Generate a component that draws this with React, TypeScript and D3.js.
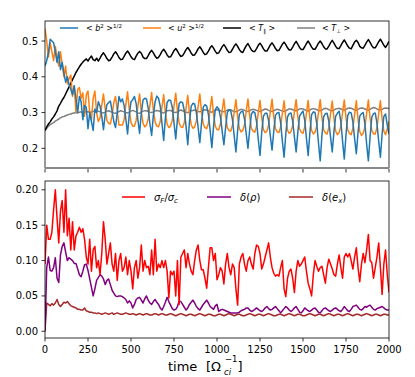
import * as d3 from "d3";

// time step of every series: 10 [1/Omega_ci], from t = 0 to 2000
const STEP = 10;

const xTicks = [0, 250, 500, 750, 1000, 1250, 1500, 1750, 2000];
const topYTicks = [0.2, 0.3, 0.4, 0.5];
const botYTicks = [0.0, 0.05, 0.1, 0.15, 0.2];
const botYLabels = ["0.00", "0.05", "0.10", "0.15", "0.20"];

// <b^2>^{1/2}
const bRms = [
  0.430, 0.445, 0.468, 0.505, 0.500, 0.495, 0.470, 0.440, 0.470, 0.420, 0.440, 0.410, 0.385, 0.400, 0.378, 0.365,
  0.350, 0.375, 0.340, 0.300, 0.345, 0.330, 0.280, 0.320, 0.315, 0.255, 0.300, 0.275, 0.250, 0.310, 0.300,
  0.330, 0.318, 0.290, 0.252, 0.295, 0.322, 0.328,
  0.332, 0.305, 0.275, 0.258, 0.300, 0.345, 0.330,
  0.338, 0.320, 0.282, 0.240, 0.295, 0.330, 0.336,
  0.345, 0.325, 0.280, 0.242, 0.300, 0.335, 0.340,
  0.338, 0.312, 0.268, 0.236, 0.292, 0.330, 0.346,
  0.340, 0.318, 0.270, 0.222, 0.285, 0.328, 0.335,
  0.334, 0.315, 0.272, 0.226, 0.282, 0.325, 0.330,
  0.328, 0.305, 0.262, 0.210, 0.275, 0.318, 0.326,
  0.324, 0.300, 0.260, 0.216, 0.270, 0.315, 0.322,
  0.318, 0.295, 0.250, 0.202, 0.262, 0.308, 0.316,
  0.310, 0.288, 0.248, 0.210, 0.258, 0.300, 0.308,
  0.305, 0.280, 0.235, 0.190, 0.250, 0.295, 0.302,
  0.304, 0.282, 0.240, 0.200, 0.252, 0.296, 0.303,
  0.300, 0.275, 0.225, 0.180, 0.245, 0.290, 0.298,
  0.298, 0.278, 0.235, 0.195, 0.248, 0.292, 0.299,
  0.300, 0.272, 0.220, 0.175, 0.240, 0.288, 0.297,
  0.299, 0.276, 0.232, 0.190, 0.246, 0.290, 0.298,
  0.304, 0.278, 0.228, 0.180, 0.244, 0.294, 0.302,
  0.300, 0.270, 0.215, 0.165, 0.235, 0.288, 0.297,
  0.298, 0.276, 0.232, 0.190, 0.248, 0.290, 0.298,
  0.304, 0.275, 0.220, 0.170, 0.238, 0.292, 0.301,
  0.299, 0.274, 0.228, 0.185, 0.245, 0.290, 0.297,
  0.300, 0.268, 0.212, 0.165, 0.232, 0.287, 0.297,
  0.299, 0.270, 0.220, 0.175, 0.240, 0.289, 0.296,
  0.265, 0.240,
];

// <u^2>^{1/2}
const uRms = [
  0.535, 0.500, 0.455, 0.495, 0.470, 0.445, 0.485, 0.455, 0.430, 0.470, 0.435, 0.400, 0.430, 0.380, 0.395, 0.405,
  0.345, 0.375, 0.300, 0.365, 0.370, 0.340, 0.355, 0.290, 0.350, 0.360, 0.300, 0.280, 0.340, 0.360, 0.300,
  0.275, 0.285, 0.320, 0.352, 0.310, 0.278, 0.270,
  0.268, 0.292, 0.328, 0.345, 0.305, 0.265, 0.265,
  0.265, 0.280, 0.322, 0.358, 0.308, 0.272, 0.262,
  0.262, 0.278, 0.318, 0.352, 0.302, 0.270, 0.260,
  0.265, 0.282, 0.320, 0.356, 0.306, 0.274, 0.262,
  0.260, 0.275, 0.315, 0.350, 0.300, 0.268, 0.258,
  0.262, 0.278, 0.318, 0.354, 0.304, 0.270, 0.260,
  0.258, 0.272, 0.312, 0.348, 0.298, 0.266, 0.256,
  0.260, 0.276, 0.316, 0.352, 0.302, 0.268, 0.258,
  0.255, 0.270, 0.310, 0.345, 0.295, 0.262, 0.252,
  0.252, 0.268, 0.305, 0.338, 0.290, 0.258, 0.250,
  0.248, 0.265, 0.302, 0.336, 0.288, 0.255, 0.246,
  0.250, 0.266, 0.304, 0.338, 0.290, 0.256, 0.248,
  0.245, 0.262, 0.300, 0.334, 0.285, 0.252, 0.244,
  0.248, 0.265, 0.302, 0.337, 0.288, 0.255, 0.246,
  0.244, 0.260, 0.298, 0.333, 0.284, 0.250, 0.242,
  0.246, 0.264, 0.302, 0.336, 0.287, 0.254, 0.245,
  0.242, 0.260, 0.298, 0.334, 0.283, 0.250, 0.240,
  0.245, 0.262, 0.300, 0.336, 0.286, 0.252, 0.243,
  0.240, 0.258, 0.296, 0.332, 0.282, 0.248, 0.238,
  0.244, 0.262, 0.300, 0.335, 0.285, 0.252, 0.242,
  0.238, 0.256, 0.295, 0.333, 0.280, 0.247, 0.236,
  0.242, 0.260, 0.298, 0.335, 0.284, 0.250, 0.240,
  0.240, 0.258, 0.296, 0.333, 0.282, 0.248, 0.238,
  0.255, 0.275,
];

// <T_par>
const tPar = [
  0.250, 0.260, 0.268, 0.274, 0.282, 0.288, 0.296, 0.305, 0.318, 0.326, 0.335, 0.342, 0.352, 0.362, 0.372, 0.382,
  0.392, 0.402, 0.412, 0.420, 0.428, 0.435, 0.441, 0.446, 0.450, 0.444, 0.452, 0.458, 0.448, 0.445, 0.452,
  0.444, 0.452, 0.461, 0.467, 0.460, 0.451, 0.445,
  0.447, 0.455, 0.464, 0.470, 0.463, 0.454, 0.448,
  0.449, 0.457, 0.466, 0.472, 0.465, 0.456, 0.450,
  0.448, 0.458, 0.466, 0.471, 0.466, 0.455, 0.451,
  0.451, 0.459, 0.468, 0.474, 0.467, 0.458, 0.452,
  0.454, 0.462, 0.471, 0.477, 0.470, 0.461, 0.455,
  0.456, 0.464, 0.473, 0.479, 0.472, 0.463, 0.457,
  0.459, 0.467, 0.476, 0.482, 0.475, 0.466, 0.460,
  0.461, 0.469, 0.478, 0.484, 0.477, 0.468, 0.462,
  0.464, 0.472, 0.481, 0.487, 0.480, 0.471, 0.465,
  0.467, 0.475, 0.484, 0.490, 0.483, 0.474, 0.468,
  0.469, 0.477, 0.486, 0.492, 0.485, 0.476, 0.470,
  0.468, 0.478, 0.487, 0.493, 0.484, 0.475, 0.471,
  0.471, 0.479, 0.488, 0.494, 0.487, 0.478, 0.472,
  0.472, 0.480, 0.489, 0.495, 0.488, 0.479, 0.473,
  0.474, 0.482, 0.491, 0.497, 0.490, 0.481, 0.475,
  0.475, 0.483, 0.492, 0.499, 0.491, 0.482, 0.476,
  0.476, 0.484, 0.493, 0.500, 0.492, 0.483, 0.477,
  0.477, 0.485, 0.494, 0.500, 0.493, 0.484, 0.478,
  0.478, 0.486, 0.495, 0.502, 0.494, 0.485, 0.479,
  0.479, 0.487, 0.496, 0.503, 0.495, 0.486, 0.480,
  0.478, 0.488, 0.497, 0.502, 0.496, 0.485, 0.481,
  0.480, 0.488, 0.497, 0.504, 0.496, 0.487, 0.481,
  0.481, 0.489, 0.498, 0.505, 0.497, 0.488, 0.482,
  0.490, 0.499,
];

// <T_perp>
const tPerp = [
  0.250, 0.256, 0.262, 0.266, 0.269, 0.272, 0.276, 0.279, 0.282, 0.285, 0.288, 0.289, 0.291, 0.293, 0.295, 0.296,
  0.298, 0.299, 0.300, 0.299, 0.301, 0.302, 0.300, 0.303, 0.301, 0.303, 0.300, 0.302, 0.304, 0.301, 0.302,
  0.304, 0.302, 0.300, 0.299, 0.301, 0.304, 0.305,
  0.303, 0.301, 0.299, 0.298, 0.300, 0.303, 0.305,
  0.304, 0.302, 0.300, 0.299, 0.301, 0.304, 0.306,
  0.304, 0.302, 0.299, 0.298, 0.301, 0.304, 0.305,
  0.305, 0.303, 0.301, 0.300, 0.302, 0.305, 0.306,
  0.305, 0.303, 0.300, 0.299, 0.302, 0.305, 0.306,
  0.306, 0.303, 0.301, 0.300, 0.302, 0.305, 0.307,
  0.305, 0.303, 0.301, 0.300, 0.302, 0.305, 0.306,
  0.307, 0.305, 0.303, 0.302, 0.304, 0.307, 0.308,
  0.307, 0.305, 0.302, 0.301, 0.304, 0.307, 0.308,
  0.307, 0.305, 0.303, 0.302, 0.304, 0.307, 0.308,
  0.308, 0.305, 0.303, 0.302, 0.304, 0.307, 0.309,
  0.308, 0.306, 0.304, 0.303, 0.305, 0.308, 0.309,
  0.308, 0.306, 0.304, 0.303, 0.305, 0.308, 0.310,
  0.309, 0.306, 0.304, 0.303, 0.305, 0.308, 0.309,
  0.308, 0.306, 0.304, 0.303, 0.305, 0.308, 0.310,
  0.310, 0.308, 0.306, 0.305, 0.307, 0.310, 0.311,
  0.310, 0.308, 0.305, 0.304, 0.307, 0.310, 0.311,
  0.310, 0.308, 0.306, 0.305, 0.307, 0.310, 0.312,
  0.311, 0.308, 0.306, 0.305, 0.307, 0.310, 0.311,
  0.312, 0.310, 0.308, 0.307, 0.309, 0.312, 0.313,
  0.312, 0.310, 0.307, 0.306, 0.309, 0.312, 0.313,
  0.312, 0.310, 0.308, 0.307, 0.309, 0.312, 0.314,
  0.313, 0.310, 0.308, 0.307, 0.309, 0.312, 0.313,
  0.312, 0.311,
];

// sigma_F / sigma_c
const sigmaRatio = [
  0.095, 0.150, 0.130, 0.130, 0.140, 0.172, 0.200, 0.160, 0.125, 0.170, 0.185, 0.140, 0.200, 0.135, 0.160, 0.115,
  0.155, 0.115, 0.135, 0.140, 0.147, 0.140, 0.145, 0.130, 0.105, 0.095, 0.130, 0.085, 0.115, 0.120, 0.090, 0.100,
  0.080, 0.110, 0.155, 0.130, 0.095, 0.110, 0.125, 0.095, 0.085, 0.110, 0.072, 0.100, 0.110, 0.085, 0.090, 0.105,
  0.080, 0.100, 0.085, 0.060, 0.090, 0.100, 0.075, 0.090, 0.122, 0.085, 0.100, 0.090, 0.092, 0.080, 0.115, 0.080,
  0.130, 0.085, 0.095, 0.090, 0.100, 0.090, 0.100, 0.085, 0.047, 0.085, 0.080, 0.085, 0.050, 0.100, 0.038, 0.105,
  0.110, 0.115, 0.090, 0.110, 0.095, 0.085, 0.080, 0.100, 0.115, 0.122, 0.100, 0.087, 0.087, 0.075, 0.061, 0.090,
  0.118, 0.118, 0.100, 0.110, 0.073, 0.080, 0.090, 0.085, 0.067, 0.095, 0.110, 0.090, 0.080, 0.095, 0.090, 0.060,
  0.037, 0.095, 0.105, 0.110, 0.095, 0.085, 0.100, 0.105, 0.095, 0.088, 0.110, 0.122, 0.120, 0.110, 0.088, 0.095,
  0.105, 0.115, 0.125, 0.105, 0.090, 0.082, 0.078, 0.080, 0.078, 0.090, 0.100, 0.060, 0.049, 0.075, 0.085, 0.088,
  0.075, 0.055, 0.085, 0.100, 0.092, 0.095, 0.100, 0.105, 0.085, 0.068, 0.060, 0.050, 0.080, 0.100, 0.092, 0.085,
  0.090, 0.092, 0.080, 0.068, 0.090, 0.102, 0.095, 0.088, 0.080, 0.078, 0.095, 0.108, 0.090, 0.075, 0.105, 0.110,
  0.105, 0.110, 0.100, 0.088, 0.105, 0.118, 0.090, 0.070, 0.095, 0.110, 0.097, 0.115, 0.137, 0.100, 0.097, 0.075,
  0.090, 0.105, 0.125, 0.090, 0.052, 0.095, 0.115, 0.080, 0.055,
];

// delta(rho)
const deltaRho = [
  0.000, 0.090, 0.105, 0.086, 0.085, 0.090, 0.104, 0.075, 0.069, 0.108, 0.120, 0.125, 0.112, 0.100, 0.104, 0.102,
  0.100, 0.096, 0.096, 0.088, 0.080, 0.077, 0.085, 0.094, 0.095, 0.086, 0.074, 0.062, 0.050, 0.060, 0.072, 0.076,
  0.080, 0.078, 0.074, 0.066, 0.072, 0.074, 0.066, 0.058, 0.054, 0.050, 0.049, 0.050, 0.050, 0.049, 0.047, 0.045,
  0.040, 0.043, 0.040, 0.033, 0.038, 0.045, 0.047, 0.048, 0.044, 0.040, 0.046, 0.050, 0.044, 0.040, 0.038, 0.042,
  0.045, 0.041, 0.038, 0.033, 0.030, 0.035, 0.041, 0.048, 0.042, 0.037, 0.032, 0.030, 0.031, 0.035, 0.043, 0.042,
  0.038, 0.034, 0.030, 0.033, 0.038, 0.041, 0.044, 0.040, 0.035, 0.032, 0.030, 0.034, 0.038, 0.041, 0.044, 0.040,
  0.035, 0.033, 0.031, 0.036, 0.038, 0.028, 0.030, 0.031, 0.030, 0.029, 0.028, 0.027, 0.026, 0.026, 0.026, 0.026,
  0.026, 0.027, 0.029, 0.030, 0.031, 0.033, 0.033, 0.030, 0.028, 0.029, 0.031, 0.033, 0.031, 0.029, 0.028, 0.030,
  0.033, 0.035, 0.032, 0.030, 0.031, 0.033, 0.035, 0.032, 0.029, 0.026, 0.029, 0.032, 0.035, 0.033, 0.030, 0.028,
  0.030, 0.033, 0.035, 0.031, 0.027, 0.026, 0.029, 0.033, 0.031, 0.029, 0.028, 0.030, 0.032, 0.033, 0.030, 0.027,
  0.026, 0.029, 0.032, 0.033, 0.031, 0.029, 0.028, 0.030, 0.032, 0.033, 0.031, 0.029, 0.028, 0.031, 0.035, 0.032,
  0.029, 0.028, 0.031, 0.035, 0.036, 0.037, 0.034, 0.031, 0.030, 0.032, 0.035, 0.034, 0.036, 0.037, 0.034, 0.031,
  0.030, 0.032, 0.033, 0.034, 0.035, 0.033, 0.031, 0.030, 0.030,
];

// delta(e_x)
const deltaEx = [
  0.000, 0.040, 0.038, 0.036, 0.039, 0.037, 0.040, 0.045, 0.038, 0.035, 0.038, 0.041, 0.040, 0.042, 0.039, 0.036,
  0.035, 0.034, 0.033, 0.031, 0.031, 0.030, 0.030, 0.033, 0.029, 0.028, 0.027, 0.027, 0.026, 0.026, 0.025,
  0.026, 0.025, 0.024, 0.025, 0.026, 0.025, 0.024, 0.025, 0.026, 0.024, 0.025, 0.026, 0.025, 0.024, 0.024, 0.025, 0.026, 0.025, 0.024, 0.024,
  0.025, 0.024, 0.023, 0.024, 0.025, 0.024, 0.023, 0.024, 0.025, 0.024, 0.023, 0.023, 0.024, 0.025, 0.024, 0.023, 0.024, 0.025, 0.024, 0.023,
  0.023, 0.024, 0.025, 0.024, 0.023, 0.022, 0.023, 0.024, 0.025, 0.024, 0.023, 0.022, 0.023, 0.024, 0.024, 0.023, 0.022, 0.023, 0.024, 0.025,
  0.024, 0.023, 0.022, 0.023, 0.024, 0.024, 0.023, 0.022, 0.022, 0.023, 0.024, 0.024, 0.023, 0.022, 0.023, 0.024, 0.025, 0.024, 0.023, 0.022,
  0.023, 0.024, 0.024, 0.023, 0.022, 0.022, 0.023, 0.024, 0.025, 0.024, 0.023, 0.022, 0.023, 0.024, 0.024, 0.023, 0.022, 0.023, 0.024, 0.025,
  0.024, 0.023, 0.022, 0.022, 0.023, 0.024, 0.024, 0.023, 0.022, 0.023, 0.024, 0.025, 0.024, 0.023, 0.022, 0.023, 0.024, 0.024, 0.023, 0.022,
  0.022, 0.023, 0.024, 0.025, 0.024, 0.023, 0.022, 0.023, 0.024, 0.024, 0.023, 0.022, 0.023, 0.024, 0.025, 0.024, 0.023, 0.022, 0.023, 0.024,
  0.024, 0.023, 0.022, 0.023, 0.024, 0.025, 0.024, 0.023, 0.022, 0.023, 0.024, 0.024, 0.023, 0.022, 0.023, 0.024, 0.025, 0.024, 0.023, 0.022,
  0.023, 0.024, 0.024, 0.023, 0.022, 0.023, 0.024, 0.024, 0.023, 0.023,
];

const FONT = "DejaVu Sans";

const x = d3.scaleLinear().domain([0, 2000]).range([45, 389]);
const yTop = d3.scaleLinear().domain([0.145, 0.556]).range([168, 21]);
const yBot = d3.scaleLinear().domain([-0.0095, 0.2125]).range([338, 181]);

function path(vals: number[], y: d3.ScaleLinear<number, number>) {
  return d3.line<number>()
    .x((_, i) => x(i * STEP))
    .y((d) => y(d))(vals) ?? "";
}

const topSeries = [
  { vals: tPerp, color: "#808080" },
  { vals: tPar, color: "#000000" },
  { vals: uRms, color: "#ff7f0e" },
  { vals: bRms, color: "#1f77b4" },
];
const botSeries = [
  { vals: deltaEx, color: "#a52a2a" },
  { vals: deltaRho, color: "#800080" },
  { vals: sigmaRatio, color: "#ff0000" },
];

export default function App() {
  const left = 45, right = 389;
  return (
    <svg width={415} height={377} style={{ position: "absolute", left: 0, top: 0, background: "#fff" }}
      fontFamily={FONT}>
      <defs>
        <clipPath id="cTop"><rect x={left} y={21} width={right - left} height={147} /></clipPath>
        <clipPath id="cBot"><rect x={left} y={181} width={right - left} height={157} /></clipPath>
      </defs>

      {/* top panel */}
      <g clipPath="url(#cTop)">
        {topSeries.map((s, i) => (
          <path key={i} d={path(s.vals, yTop)} fill="none" stroke={s.color} strokeWidth={1.5} strokeLinejoin="round" />
        ))}
      </g>
      <rect x={left} y={21} width={right - left} height={147} fill="none" stroke="#000" strokeWidth={0.8} />
      <line x1={left} x2={right} y1={168} y2={168} stroke="#888" strokeWidth={2} />
      {xTicks.map((t) => (
        <line key={t} x1={x(t)} x2={x(t)} y1={169} y2={172.5} stroke="#000" strokeWidth={0.8} />
      ))}
      {topYTicks.map((v) => (
        <g key={v}>
          <line x1={left - 3.5} x2={left} y1={yTop(v)} y2={yTop(v)} stroke="#000" strokeWidth={0.8} />
          <text x={left - 7} y={yTop(v)} dy="0.35em" textAnchor="end" fontSize={10}>{v.toFixed(1)}</text>
        </g>
      ))}

      {/* top legend */}
      <g fontSize={8}>
        <line x1={60} x2={78} y1={28} y2={28} stroke="#1f77b4" strokeWidth={1.5} />
        <text x={86} y={31}>
          <tspan>{"< "}</tspan><tspan fontStyle="italic">b</tspan>
          <tspan dy={-3} fontSize={5.5}>2</tspan><tspan dy={3}>{" >"}</tspan>
          <tspan dy={-3.5} fontSize={5.5}>1/2</tspan>
        </text>
        <line x1={143} x2={161} y1={28} y2={28} stroke="#ff7f0e" strokeWidth={1.5} />
        <text x={168} y={31}>
          <tspan>{"< "}</tspan><tspan fontStyle="italic">u</tspan>
          <tspan dy={-3} fontSize={5.5}>2</tspan><tspan dy={3}>{" >"}</tspan>
          <tspan dy={-3.5} fontSize={5.5}>1/2</tspan>
        </text>
        <line x1={223} x2={241} y1={28} y2={28} stroke="#000" strokeWidth={1.5} />
        <text x={249} y={31}>
          <tspan>{"< "}</tspan><tspan fontStyle="italic">T</tspan>
          <tspan dy={2} fontSize={5.5}>∥</tspan><tspan dy={-2}>{" >"}</tspan>
        </text>
        <line x1={297} x2={315} y1={28} y2={28} stroke="#808080" strokeWidth={1.5} />
        <text x={322} y={31}>
          <tspan>{"< "}</tspan><tspan fontStyle="italic">T</tspan>
          <tspan dy={2} fontSize={5.5}>⊥</tspan><tspan dy={-2}>{" >"}</tspan>
        </text>
      </g>

      {/* bottom panel */}
      <g clipPath="url(#cBot)">
        {botSeries.map((s, i) => (
          <path key={i} d={path(s.vals, yBot)} fill="none" stroke={s.color} strokeWidth={1.5} strokeLinejoin="round" />
        ))}
      </g>
      <rect x={left} y={181} width={right - left} height={157} fill="none" stroke="#000" strokeWidth={0.8} />
      {xTicks.map((t) => (
        <g key={t}>
          <line x1={x(t)} x2={x(t)} y1={338} y2={341.5} stroke="#000" strokeWidth={0.8} />
          <text x={x(t)} y={353} textAnchor="middle" fontSize={10}>{t}</text>
        </g>
      ))}
      {botYTicks.map((v, i) => (
        <g key={v}>
          <line x1={left - 3.5} x2={left} y1={yBot(v)} y2={yBot(v)} stroke="#000" strokeWidth={0.8} />
          <text x={left - 7} y={yBot(v)} dy="0.35em" textAnchor="end" fontSize={10}>{botYLabels[i]}</text>
        </g>
      ))}

      {/* bottom legend */}
      <g fontSize={10}>
        <line x1={122} x2={145} y1={197} y2={197} stroke="#ff0000" strokeWidth={1.5} />
        <text x={154} y={201}>
          <tspan fontStyle="italic">σ</tspan><tspan dy={2} fontSize={7} fontStyle="italic">F</tspan>
          <tspan dy={-2}>/</tspan><tspan fontStyle="italic">σ</tspan>
          <tspan dy={2} fontSize={7} fontStyle="italic">c</tspan>
        </text>
        <line x1={207} x2={231} y1={197} y2={197} stroke="#800080" strokeWidth={1.5} />
        <text x={240} y={201}>
          <tspan fontStyle="italic">δ</tspan><tspan>(</tspan><tspan fontStyle="italic">ρ</tspan><tspan>)</tspan>
        </text>
        <line x1={289} x2={313} y1={197} y2={197} stroke="#a52a2a" strokeWidth={1.5} />
        <text x={322} y={201}>
          <tspan fontStyle="italic">δ</tspan><tspan>(</tspan><tspan fontStyle="italic">e</tspan>
          <tspan dy={2} fontSize={7} fontStyle="italic">x</tspan><tspan dy={-2}>)</tspan>
        </text>
      </g>

      {/* x label */}
      <text x={168} y={371} fontSize={13}>time</text>
      <text x={206} y={371} fontSize={13}>[Ω</text>
      <text x={225} y={362} fontSize={8.5}>−1</text>
      <text x={224} y={375} fontSize={8.5} fontStyle="italic">ci</text>
      <text x={237.5} y={371} fontSize={13}>]</text>
    </svg>
  );
}
